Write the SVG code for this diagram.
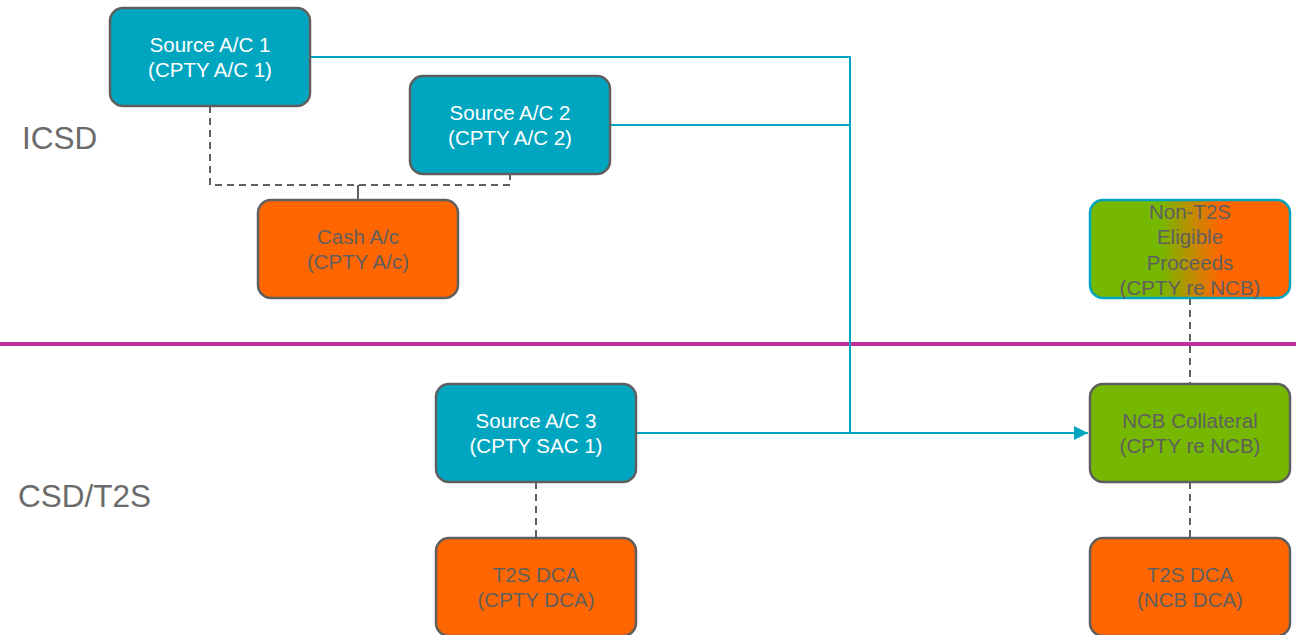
<svg xmlns="http://www.w3.org/2000/svg" width="1296" height="635" viewBox="0 0 1296 635">
<style>
.box{stroke:#5f5f5f;stroke-width:2.5}
.teal{fill:#00A6C0}
.orange{fill:#FF6600}
.green{fill:#76B800}
.t{font-family:"Liberation Sans",Arial,sans-serif;font-size:20.5px;text-anchor:middle}
.w{fill:#ffffff}
.g{fill:#5f5f5f}
.lbl{font-family:"Liberation Sans",Arial,sans-serif;font-size:31.5px;fill:#6b6b6b}
.flow{fill:none;stroke:#00A6C0;stroke-width:2}
.dash{fill:none;stroke:#5f5f5f;stroke-width:2;stroke-dasharray:7,5}
.solid{fill:none;stroke:#5f5f5f;stroke-width:2}
</style>
<defs>
<marker id="arrow" viewBox="0 0 10 10" refX="10" refY="5" markerWidth="14" markerHeight="14" markerUnits="userSpaceOnUse" orient="auto">
<path d="M0,0 L10,5 L0,10 z" fill="#00A6C0"/>
</marker>
<linearGradient id="grad" x1="0" y1="0" x2="1" y2="0">
<stop offset="0.35" stop-color="#76B800"/>
<stop offset="0.65" stop-color="#FF6600"/>
</linearGradient>
</defs>
<rect width="1296" height="635" fill="#ffffff"/>
<text class="lbl" x="22" y="149">ICSD</text>
<text class="lbl" x="18" y="507">CSD/T2S</text>
<line x1="0" y1="344" x2="1296" y2="344" stroke="#C0309A" stroke-width="4"/>
<g id="connectors">
<polyline class="flow" points="310,57 850,57 850,433 1088,433" marker-end="url(#arrow)"/>
<polyline class="flow" points="610,125 850,125"/>
<polyline class="flow" points="636,433 850,433"/>
<polyline class="dash" points="210,106 210,185 510,185 510,174"/>
<line class="solid" x1="358" y1="185" x2="358" y2="200"/>
<line class="dash" x1="1190" y1="298" x2="1190" y2="384"/>
<line class="dash" x1="1190" y1="482" x2="1190" y2="538"/>
<line class="dash" x1="536" y1="482" x2="536" y2="538"/>
</g>
<g id="source1">
<rect class="box teal" x="110" y="8" width="200" height="98" rx="13"/>
<text class="t w" x="210" y="52">Source A/C 1</text>
<text class="t w" x="210" y="77">(CPTY A/C 1)</text>
</g>
<g id="source2">
<rect class="box teal" x="410" y="76" width="200" height="98" rx="13"/>
<text class="t w" x="510" y="120">Source A/C 2</text>
<text class="t w" x="510" y="145">(CPTY A/C 2)</text>
</g>
<g id="cash">
<rect class="box orange" x="258" y="200" width="200" height="98" rx="13"/>
<text class="t g" x="358" y="244">Cash A/c</text>
<text class="t g" x="358" y="269">(CPTY A/c)</text>
</g>
<g id="nont2s">
<rect x="1090" y="200" width="200" height="98" rx="13" fill="url(#grad)" stroke="#00A6C0" stroke-width="2.5"/>
<text class="t g" x="1190" y="219">Non-T2S</text>
<text class="t g" x="1190" y="244">Eligible</text>
<text class="t g" x="1190" y="270">Proceeds</text>
<text class="t g" x="1190" y="295">(CPTY re NCB)</text>
</g>
<g id="source3">
<rect class="box teal" x="436" y="384" width="200" height="98" rx="13"/>
<text class="t w" x="536" y="428">Source A/C 3</text>
<text class="t w" x="536" y="453">(CPTY SAC 1)</text>
</g>
<g id="ncb">
<rect class="box green" x="1090" y="384" width="200" height="98" rx="13"/>
<text class="t g" x="1190" y="428">NCB Collateral</text>
<text class="t g" x="1190" y="453">(CPTY re NCB)</text>
</g>
<g id="dca1">
<rect class="box orange" x="436" y="538" width="200" height="98" rx="13"/>
<text class="t g" x="536" y="582">T2S DCA</text>
<text class="t g" x="536" y="607">(CPTY DCA)</text>
</g>
<g id="dca2">
<rect class="box orange" x="1090" y="538" width="200" height="98" rx="13"/>
<text class="t g" x="1190" y="582">T2S DCA</text>
<text class="t g" x="1190" y="607">(NCB DCA)</text>
</g>
</svg>
